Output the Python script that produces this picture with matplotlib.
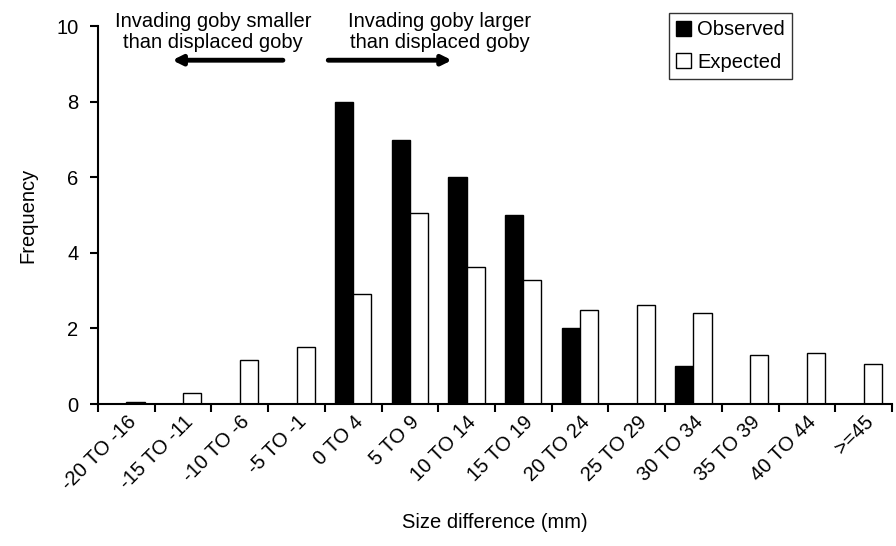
import matplotlib.pyplot as plt
import numpy as np

plt.rcParams['font.family'] = ['Liberation Sans', 'DejaVu Sans']

categories = ['-20 TO -16', '-15 TO -11', '-10 TO -6', '-5 TO -1', '0 TO 4', '5 TO 9',
              '10 TO 14', '15 TO 19', '20 TO 24', '25 TO 29', '30 TO 34', '35 TO 39',
              '40 TO 44', '>=45']
observed = [0, 0, 0, 0, 8, 7, 6, 5, 2, 0, 1, 0, 0, 0]
expected = [0.05, 0.29, 1.16, 1.5, 2.92, 5.05, 3.63, 3.27, 2.5, 2.62, 2.4, 1.3, 1.34, 1.05]

fs = 14.5

fig = plt.figure(figsize=(8.96, 5.46), dpi=100)
ax = fig.add_axes([0.1094, 0.26, 0.8861, 0.692])

x = np.arange(len(categories))
w = 0.32
ax.bar(x - w / 2, observed, w, color='black', edgecolor='black', linewidth=1, label='Observed')
ax.bar(x + w / 2, expected, w, color='white', edgecolor='black', linewidth=1, label='Expected')

ax.set_xlim(-0.5, len(categories) - 0.5)
ax.set_ylim(0, 10)
ax.set_yticks([0, 2, 4, 6, 8, 10])
ax.tick_params(axis='y', labelsize=fs, length=6, width=1.5, direction='out', pad=8)

# labels at centres, ticks at the boundaries
ax.set_xticks(x)
ax.set_xticklabels(categories, rotation=45, ha='right', rotation_mode='anchor', fontsize=fs)
ax.tick_params(axis='x', which='major', length=0, pad=6)
ax.set_xticks(np.arange(-0.5, len(categories)), minor=True)
ax.tick_params(axis='x', which='minor', length=6, width=1.5, direction='out')

for s in ['top', 'right']:
    ax.spines[s].set_visible(False)
for s in ['left', 'bottom']:
    ax.spines[s].set_linewidth(1.5)

ax.set_ylabel('Frequency', fontsize=fs, labelpad=14)
ax.set_xlabel('Size difference (mm)', fontsize=fs, labelpad=14)

leg = ax.legend(loc='upper right', bbox_to_anchor=(0.874, 1.034), fontsize=fs, frameon=True,
                fancybox=False, edgecolor='black', handlelength=0.75, handleheight=0.75,
                handletextpad=0.3, borderpad=0.35, labelspacing=0.65, borderaxespad=0)
leg.get_frame().set_linewidth(1)

ax.text(1.53, 10.37, 'Invading goby smaller\nthan displaced goby', ha='center', va='top',
        fontsize=fs, linespacing=1.15, clip_on=False)
ax.text(5.53, 10.37, 'Invading goby larger\nthan displaced goby', ha='center', va='top',
        fontsize=fs, linespacing=1.15, clip_on=False)
ax.annotate('', xy=(0.81, 9.1), xytext=(2.76, 9.1),
            arrowprops=dict(arrowstyle='-|>', lw=3.5, color='black', mutation_scale=14,
                            shrinkA=0, shrinkB=0), annotation_clip=False)
ax.annotate('', xy=(5.74, 9.1), xytext=(3.56, 9.1),
            arrowprops=dict(arrowstyle='-|>', lw=3.5, color='black', mutation_scale=14,
                            shrinkA=0, shrinkB=0), annotation_clip=False)

fig.savefig('out.png', dpi=100)
